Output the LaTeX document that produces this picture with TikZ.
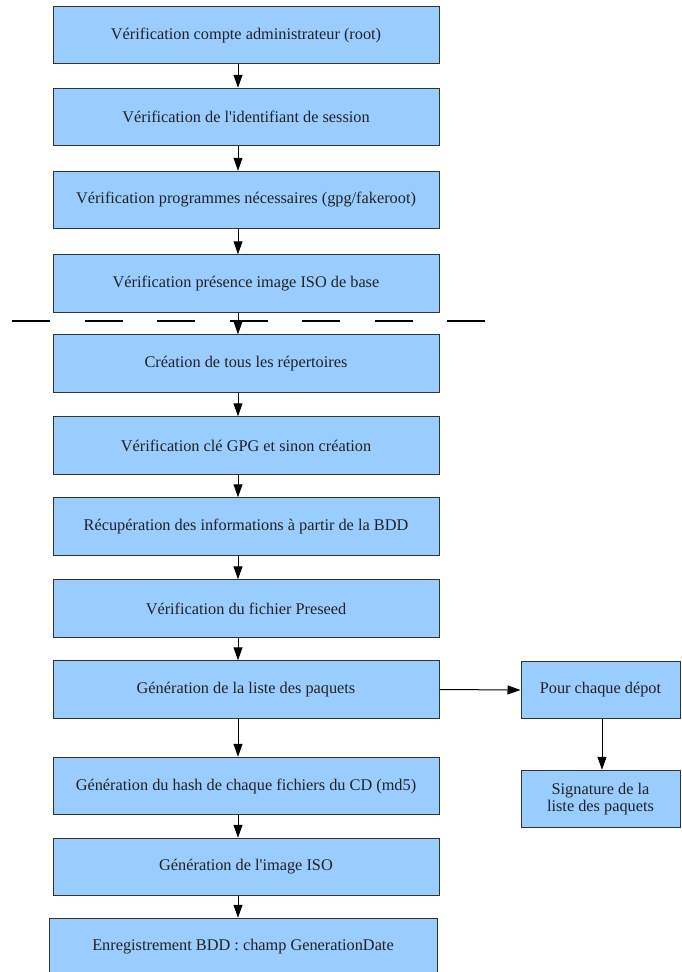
\documentclass[tikz,border=0pt]{standalone}
\usepackage{fontspec}
\setmainfont{Liberation Serif}[Ligatures=TeXOff]
\usetikzlibrary{arrows.meta}
\definecolor{boxfill}{HTML}{99CCFF}
\definecolor{boxline}{HTML}{333333}
\definecolor{txt}{HTML}{222222}
\tikzset{
  mainbox/.style={draw=boxline, fill=boxfill, line width=1pt, minimum width=386pt, minimum height=57.5pt, inner sep=0pt, font=\fontsize{16.3}{17.5}\selectfont, text=txt, align=center},
  sidebox/.style={mainbox, minimum width=159pt},
  arr/.style={draw=black, line width=1pt, -{Triangle[length=13pt,width=9pt]}},
  sepline/.style={line width=1.6pt, dash pattern=on 38pt off 34.5pt}
}
\begin{document}
\begin{tikzpicture}[x=1pt,y=-1pt]
\useasboundingbox (0,0) rectangle (681,972);
\clip (0,0) rectangle (681,972);
\coordinate (ax) at (238,0);
\node[mainbox] (b1) at (246,35) {Vérification compte administrateur (root)};
\node[mainbox] (b2) at (246,117) {Vérification de l'identifiant de session};
\node[mainbox] (b3) at (246,200) {Vérification programmes nécessaires (gpg/fakeroot)};
\node[mainbox] (b4) at (246,283.5) {Vérification présence image ISO de base};
\node[mainbox] (b5) at (246,363.5) {Création de tous les répertoires};
\node[mainbox] (b6) at (246,445.5) {Vérification clé GPG et sinon création};
\node[mainbox] (b7) at (246,526.5) {Récupération des informations à partir de la BDD};
\node[mainbox] (b8) at (246,608.5) {Vérification du fichier Preseed};
\node[mainbox] (b9) at (246,689.5) {Génération de la liste des paquets};
\node[mainbox] (b10) at (246,786) {Génération du hash de chaque fichiers du CD (md5)};
\node[mainbox] (b11) at (246,867) {Génération de l'image ISO};
\node[mainbox, minimum width=388pt] (b12) at (243,947) {Enregistrement BDD : champ GenerationDate};
\node[sidebox] (s1) at (600.5,690) {Pour chaque dépot};
\node[sidebox] (s2) at (600.5,799) {Signature de la\\liste des paquets};
\coordinate (dl) at (12,321);
\coordinate (dr) at (487,321);
\draw[sepline] (dl) -- (dr);
\foreach \a/\b in {b1/b2,b2/b3,b3/b4,b4/b5,b5/b6,b6/b7,b7/b8,b8/b9,b9/b10,b10/b11,b11/b12}{
  \draw[arr] (\a.south -| ax) -- (\b.north -| ax);
}
\draw[arr] (b9.east) -- (s1.west);
\draw[arr] ([xshift=1.5pt]s1.south) -- ([xshift=1.5pt]s2.north);
\end{tikzpicture}
\end{document}
